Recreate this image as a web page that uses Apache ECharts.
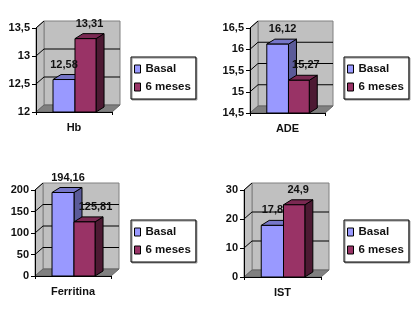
<!DOCTYPE html>
<html>
<head>
<meta charset="utf-8">
<style>
  html, body { margin: 0; padding: 0; background: #fff; }
  #chart { width: 416px; height: 312px; filter: blur(0.35px); }
</style>
<script src="https://cdn.jsdelivr.net/npm/echarts@6/dist/echarts.min.js"></script>
</head>
<body>
<div id="chart"></div>
<script>
const seriesNames = ['Basal', '6 meses'];

const categories = ['Hb', 'ADE', 'Ferritina', 'IST'];
const basalValues = [12.58, 16.12, 194.16, 17.8];
const mesesValues = [13.31, 15.27, 125.81, 24.9];
const basalLabels = ['12,58', '16,12', '194,16', '17,8'];
const mesesLabels = ['13,31', '15,27', '125,81', '24,9'];
const axisMins = [12, 14.5, 0, 0];
const axisMaxs = [13.5, 16.5, 200, 30];
const axisSteps = [0.5, 0.5, 50, 10];

// grid box, legend box and label nudge for each panel
const panels = [
  {left: 36, top: 28, width: 76, height: 84, legendLeft: 131, legendTop: 57, nudge: [0, 4]},
  {left: 250, top: 28, width: 75, height: 85, legendLeft: 344, legendTop: 57, nudge: [5, 7]},
  {left: 35, top: 190, width: 76, height: 86, legendLeft: 131, legendTop: 220, nudge: [5, 11]},
  {left: 244, top: 190, width: 77, height: 87, legendLeft: 344, legendTop: 220, nudge: [0, 4]},
];

const wallDx = 8, wallDy = 7, barDx = 8, barDy = 5;
const barEdges = [0.224, 0.513, 0.79];
const faces = [
  {front: '#9999ff', top: '#7676c8', side: '#5b5b99'},
  {front: '#993366', top: '#7a2952', side: '#4d1a33'},
];
const fontName = '"Liberation Sans", Arial, sans-serif';
const labelFont = 'bold 11px ' + fontName;

function tickValues(i) {
  const out = [];
  const n = Math.round((axisMaxs[i] - axisMins[i]) / axisSteps[i]);
  for (let k = 0; k <= n; k++) out.push(axisMins[i] + k * axisSteps[i]);
  return out;
}

function poly(points, fill, stroke, width) {
  return {
    type: 'polygon',
    shape: {points},
    style: {fill, stroke: stroke || '#000', lineWidth: width === undefined ? 1 : width},
  };
}

// back wall, side wall, floor and the gridlines sitting on the wall
function renderWall(i) {
  return function (params, api) {
    const c = params.coordSys;
    const l = c.x, r = c.x + c.width, t = c.y, b = c.y + c.height;
    const kids = [
      poly([[l + wallDx, t - wallDy], [r + wallDx, t - wallDy], [r + wallDx, b - wallDy], [l + wallDx, b - wallDy]], '#c0c0c0', '#808080'),
      poly([[l, t], [l + wallDx, t - wallDy], [l + wallDx, b - wallDy], [l, b]], '#c0c0c0', '#808080'),
      poly([[l, b], [l + wallDx, b - wallDy], [r + wallDx, b - wallDy], [r, b]], '#808080', '#666'),
    ];
    tickValues(i).forEach(function (v, k) {
      if (k === 0) return;
      const y = api.coord([0, v])[1];
      if (v !== axisMaxs[i]) {
        kids.push({type: 'line', shape: {x1: l + wallDx, y1: y - wallDy, x2: r + wallDx, y2: y - wallDy},
          style: {stroke: '#000', lineWidth: 1}});
      }
      kids.push({type: 'line', shape: {x1: l, y1: y, x2: l + wallDx, y2: y - wallDy},
        style: {stroke: '#000', lineWidth: 1}});
    });
    return {type: 'group', children: kids};
  };
}

function renderBar(i, s) {
  return function (params, api) {
    const c = params.coordSys;
    const x0 = c.x + c.width * barEdges[s];
    const x1 = c.x + c.width * barEdges[s + 1];
    const yTop = api.coord([0, api.value(1)])[1];
    const yBase = api.coord([0, axisMins[i]])[1];
    const f = faces[s];
    return {
      type: 'group',
      children: [
        poly([[x1, yTop], [x1 + barDx, yTop - barDy], [x1 + barDx, yBase - barDy], [x1, yBase]], f.side),
        poly([[x0, yTop], [x0 + barDx, yTop - barDy], [x1 + barDx, yTop - barDy], [x1, yTop]], f.top),
        poly([[x0, yTop], [x1, yTop], [x1, yBase], [x0, yBase]], f.front),
      ],
    };
  };
}

function renderLabel(i, s, labels) {
  return function (params, api) {
    const c = params.coordSys;
    const x0 = c.x + c.width * barEdges[s];
    const x1 = c.x + c.width * barEdges[s + 1];
    const yTop = api.coord([0, api.value(1)])[1];
    return {
      type: 'text',
      style: {
        x: (x0 + x1) / 2 + panels[i].nudge[s],
        y: yTop - 15,
        text: labels[i],
        font: labelFont,
        fill: '#111',
        align: 'center',
        verticalAlign: 'middle',
      },
    };
  };
}

const grid = [], xAxis = [], yAxis = [], legend = [], series = [];

categories.forEach(function (cat, i) {
  const p = panels[i];
  grid.push({left: p.left, top: p.top, width: p.width, height: p.height});
  xAxis.push({
    type: 'category',
    gridIndex: i,
    data: [cat],
    axisLine: {lineStyle: {color: '#000', width: 1}},
    axisTick: {show: true, length: 3, lineStyle: {color: '#000'}},
    axisLabel: {color: '#111', margin: 10, fontWeight: 'bold', fontSize: 11, fontFamily: fontName},
    z: 10,
  });
  yAxis.push({
    type: 'value',
    gridIndex: i,
    min: axisMins[i],
    max: axisMaxs[i],
    interval: axisSteps[i],
    splitLine: {show: false},
    axisLine: {show: true, lineStyle: {color: '#000', width: 1}},
    axisTick: {show: true, length: 4, lineStyle: {color: '#000'}},
    axisLabel: {
      color: '#111',
      margin: 6,
      fontWeight: 'bold',
      fontSize: 11,
      fontFamily: fontName,
      formatter: function (v) { return String(v).replace('.', ','); },
    },
    z: 10,
  });
  legend.push({
    orient: 'vertical',
    left: p.legendLeft,
    top: p.legendTop,
    data: seriesNames,
    icon: 'rect',
    itemWidth: 6,
    itemHeight: 8,
    itemGap: 6,
    padding: [6, 5, 6, 3],
    backgroundColor: '#fff',
    borderColor: '#000',
    borderWidth: 1,
    shadowColor: '#909090',
    shadowBlur: 0,
    shadowOffsetX: 1,
    shadowOffsetY: 1,
    selectedMode: false,
    itemStyle: {borderColor: '#000', borderWidth: 1},
    textStyle: {color: '#111', fontWeight: 'bold', fontSize: 11.5, fontFamily: fontName},
  });
  series.push({
    type: 'custom',
    xAxisIndex: i,
    yAxisIndex: i,
    silent: true,
    z: 1,
    data: [[0, axisMins[i]]],
    renderItem: renderWall(i),
  });
  [basalValues, mesesValues].forEach(function (values, s) {
    series.push({
      name: seriesNames[s],
      type: 'custom',
      xAxisIndex: i,
      yAxisIndex: i,
      z: 3 + s,
      itemStyle: {color: faces[s].front},
      data: [[0, values[i]]],
      encode: {x: 0, y: 1},
      renderItem: renderBar(i, s),
    });
    series.push({
      type: 'custom',
      xAxisIndex: i,
      yAxisIndex: i,
      silent: true,
      z: 6,
      data: [[0, values[i]]],
      encode: {x: 0, y: 1},
      renderItem: renderLabel(i, s, s === 0 ? basalLabels : mesesLabels),
    });
  });
});

const chart = echarts.init(document.getElementById('chart'));
chart.setOption({animation: false, backgroundColor: '#fff', grid, xAxis, yAxis, legend, series});
</script>
</body>
</html>
